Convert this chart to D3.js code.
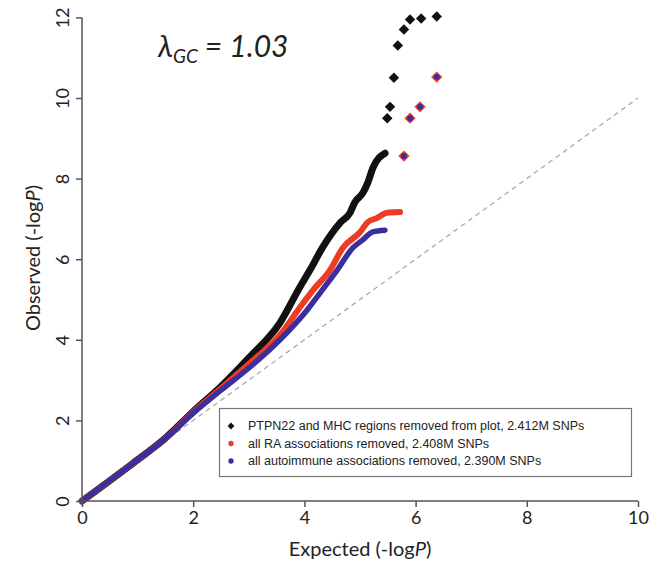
<!DOCTYPE html>
<html>
<head>
<meta charset="utf-8">
<script src="https://cdn.jsdelivr.net/npm/d3@7"></script>
<style>
  body { margin: 0; background: #fff; }
  .axis path, .axis line { stroke: #555; stroke-width: 1.5; }
  .axis text { font-family: Lato, "Open Sans", sans-serif; font-size: 18px; fill: #222; }
  .title { font-family: Lato, "Open Sans", sans-serif; font-size: 20px; fill: #222; }
  .legend text { font-family: "Liberation Sans", Arial, sans-serif; font-size: 12.5px; fill: #222; }
</style>
</head>
<body>
<div id="chart"></div>
<script>
// expected -logP ticks
var xTicks = [0, 2, 4, 6, 8, 10];
var yTicks = [0, 2, 4, 6, 8, 10, 12];

// PTPN22 and MHC regions removed (black)
var blackX = [0, 0.9, 1.5, 2.0, 2.5, 3.0, 3.56, 3.92, 4.1, 4.33, 4.64, 4.82, 4.91, 5.05, 5.14, 5.23, 5.45];
var blackY = [0, 0.92, 1.56, 2.22, 2.84, 3.55, 4.42, 5.31, 5.73, 6.3, 6.9, 7.15, 7.42, 7.64, 7.9, 8.26, 8.63];
var blackTopX = [5.49, 5.54, 5.61, 5.68, 5.79, 5.9, 6.1, 6.38];
var blackTopY = [9.5, 9.78, 10.5, 11.3, 11.7, 11.95, 11.97, 12.02];

// all RA associations removed (red)
var redX = [0, 0.9, 1.5, 2.0, 2.5, 3.0, 3.56, 3.97, 4.16, 4.46, 4.69, 5.0, 5.14, 5.3, 5.48, 5.72];
var redY = [0, 0.92, 1.55, 2.2, 2.8, 3.4, 4.12, 4.9, 5.24, 5.73, 6.28, 6.67, 6.92, 7.02, 7.15, 7.17];

// all autoimmune associations removed (blue)
var blueX = [0, 0.9, 1.5, 2.0, 2.5, 3.0, 3.56, 4.05, 4.28, 4.59, 4.87, 5.05, 5.23, 5.45];
var blueY = [0, 0.92, 1.55, 2.18, 2.75, 3.3, 4.0, 4.74, 5.16, 5.73, 6.28, 6.48, 6.68, 6.72];

// top points shared by red and blue
var sharedTopX = [5.79, 5.9, 6.08, 6.38];
var sharedTopY = [8.56, 9.5, 9.78, 10.52];

var legendLabels = [
  "PTPN22 and MHC regions removed from plot, 2.412M SNPs",
  "all RA associations removed, 2.408M SNPs",
  "all autoimmune associations removed, 2.390M SNPs"
];
var colors = ["#111111", "#ee3b24", "#3a2f9c"];

var width = 650, height = 567;

var svg = d3.select("#chart").append("svg")
    .attr("width", width)
    .attr("height", height);

var x = d3.scaleLinear().domain([0, 10]).range([82, 638]);
var y = d3.scaleLinear().domain([0, 12]).range([501, 17.4]);

function zip(xs, ys) { return xs.map(function(v, i) { return [v, ys[i]]; }); }

// diagonal reference line
svg.append("line")
    .attr("x1", x(0)).attr("y1", y(0))
    .attr("x2", x(10)).attr("y2", y(10))
    .attr("stroke", "#aaa")
    .attr("stroke-width", 1.3)
    .attr("stroke-dasharray", "5,4");

var line = d3.line()
    .x(function(d) { return x(d[0]); })
    .y(function(d) { return y(d[1]); })
    .curve(d3.curveMonotoneX);

var diamond = d3.symbol().type(d3.symbolDiamond2);

// black series
svg.append("path")
    .datum(zip(blackX, blackY))
    .attr("d", line)
    .attr("fill", "none")
    .attr("stroke", colors[0])
    .attr("stroke-width", 7)
    .attr("stroke-linejoin", "round")
    .attr("stroke-linecap", "round");

svg.selectAll(".blacktop")
    .data(zip(blackTopX, blackTopY))
  .enter().append("path")
    .attr("class", "blacktop")
    .attr("transform", function(d) { return "translate(" + x(d[0]) + "," + y(d[1]) + ")"; })
    .attr("d", diamond.size(70))
    .attr("fill", colors[0]);

// red series
svg.append("path")
    .datum(zip(redX, redY))
    .attr("d", line)
    .attr("fill", "none")
    .attr("stroke", colors[1])
    .attr("stroke-width", 6)
    .attr("stroke-linejoin", "round")
    .attr("stroke-linecap", "round");

svg.selectAll(".redtop")
    .data(zip(sharedTopX, sharedTopY))
  .enter().append("path")
    .attr("class", "redtop")
    .attr("transform", function(d) { return "translate(" + x(d[0]) + "," + y(d[1]) + ")"; })
    .attr("d", diamond.size(80))
    .attr("fill", colors[1]);

// blue series
svg.append("path")
    .datum(zip(blueX, blueY))
    .attr("d", line)
    .attr("fill", "none")
    .attr("stroke", colors[2])
    .attr("stroke-width", 5.5)
    .attr("stroke-linejoin", "round")
    .attr("stroke-linecap", "round");

svg.selectAll(".bluetop")
    .data(zip(sharedTopX, sharedTopY))
  .enter().append("circle")
    .attr("class", "bluetop")
    .attr("cx", function(d) { return x(d[0]); })
    .attr("cy", function(d) { return y(d[1]); })
    .attr("r", 3)
    .attr("fill", colors[2]);

// x axis
var xAxis = svg.append("g")
    .attr("class", "axis")
    .attr("transform", "translate(0," + y(0) + ")")
    .call(d3.axisBottom(x).tickValues(xTicks).tickSize(6).tickSizeOuter(0).tickPadding(4).tickFormat(d3.format("d")));
xAxis.select(".domain").attr("d", "M" + x(0) + ",0H" + x(10));

// y axis, labels rotated like R
var yAxis = svg.append("g")
    .attr("class", "axis")
    .attr("transform", "translate(" + x(0) + ",0)")
    .call(d3.axisLeft(y).tickValues(yTicks).tickSize(6).tickSizeOuter(0).tickFormat(d3.format("d")));
yAxis.select(".domain").attr("d", "M0," + y(0) + "V" + y(12));
yAxis.selectAll("text")
    .attr("x", 0)
    .attr("y", -13)
    .attr("dy", 0)
    .attr("transform", "rotate(-90)")
    .style("text-anchor", "middle");

// axis titles
var xt = svg.append("text")
    .attr("class", "title")
    .attr("x", 360)
    .attr("y", 556)
    .attr("text-anchor", "middle");
xt.append("tspan").text("Expected (-log");
xt.append("tspan").style("font-style", "italic").text("P");
xt.append("tspan").text(")");

var yt = svg.append("text")
    .attr("class", "title")
    .attr("transform", "translate(40,258) rotate(-90)")
    .attr("text-anchor", "middle");
yt.append("tspan").text("Observed (-log");
yt.append("tspan").style("font-style", "italic").text("P");
yt.append("tspan").text(")");

// lambda annotation
var lam = svg.append("text")
    .attr("x", 158)
    .attr("y", 57)
    .style("font-family", "Lato, 'Open Sans', sans-serif")
    .style("font-style", "italic")
    .style("font-size", "30px")
    .attr("fill", "#222");
lam.append("tspan").text("\u03bb");
lam.append("tspan").attr("dy", 6).style("font-size", "19px").text("GC");
lam.append("tspan").attr("dy", -6).text(" = 1.03");

// legend
var legend = svg.append("g").attr("class", "legend");
legend.append("rect")
    .attr("x", 219.5).attr("y", 408.5)
    .attr("width", 412).attr("height", 68)
    .attr("fill", "#fff")
    .attr("stroke", "#777")
    .attr("stroke-width", 1.2);

var items = legend.selectAll(".item")
    .data(legendLabels)
  .enter().append("g")
    .attr("class", "item")
    .attr("transform", function(d, i) { return "translate(231," + (426 + i * 17.5) + ")"; });

items.append("path")
    .attr("d", function(d, i) { return d3.symbol().type(i === 0 ? d3.symbolDiamond2 : d3.symbolCircle).size(i === 0 ? 30 : 22)(); })
    .attr("fill", function(d, i) { return colors[i]; });

items.append("text")
    .attr("x", 17)
    .attr("dy", "0.35em")
    .text(function(d) { return d; });
</script>
</body>
</html>
